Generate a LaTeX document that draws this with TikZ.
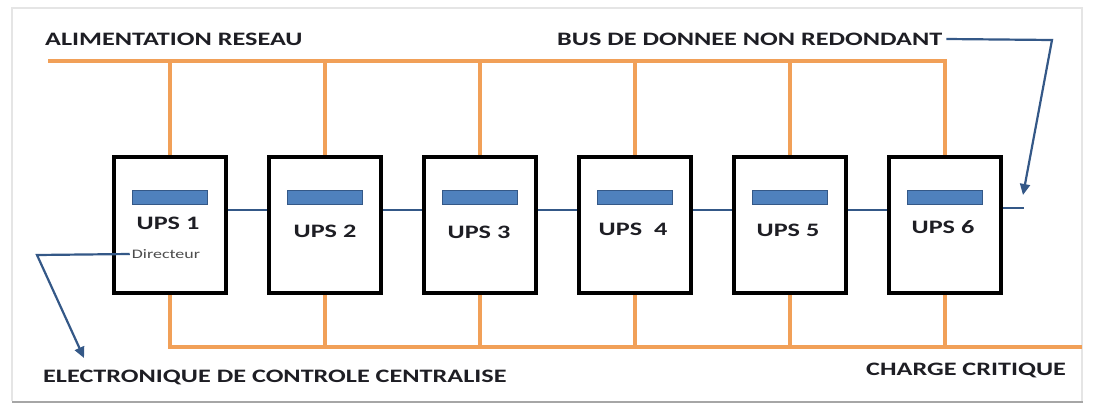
\documentclass[tikz,border=0pt]{standalone}
\usepackage{graphicx}
\usepackage{fontspec}
\setmainfont{Carlito}
\usetikzlibrary{arrows.meta,calc,positioning}
\definecolor{cordon}{RGB}{241,160,88}
\definecolor{barblue}{RGB}{79,129,189}
\definecolor{busblue}{RGB}{52,88,135}
\definecolor{texte}{RGB}{30,30,36}
\newcommand{\etire}[1]{\scalebox{1.38}[1]{#1}}
\tikzset{
  ups/.style={
    draw=black,
    line width=4pt,
    fill=white,
    minimum width=112pt,
    minimum height=136pt,
    inner sep=0pt
  },
  barre/.style={
    draw=busblue,
    fill=barblue,
    line width=.8pt,
    minimum width=75pt,
    minimum height=14pt,
    inner sep=0pt
  },
  nom/.style={
    font=\bfseries\fontsize{19}{21}\selectfont,
    text=texte,
    inner sep=0pt
  },
  titre/.style={
    font=\bfseries\fontsize{19}{21}\selectfont,
    text=texte,
    anchor=west,
    inner sep=0pt
  },
  petit/.style={
    font=\fontsize{13}{15}\selectfont,
    text=black!70,
    inner sep=0pt
  },
  cable/.style={
    cordon,
    line width=4pt
  },
  liaison/.style={
    busblue,
    line width=2pt
  },
  fleche/.style={
    -{Triangle[length=11pt,width=10pt]},
    busblue,
    line width=2.2pt
  }
}

\begin{document}
\begin{tikzpicture}[x=1pt,y=-1pt,node distance=39pt]
\useasboundingbox (0,0) rectangle (1095,407);
% cadre
\draw[black!10, line width=1.5pt] (12,401) -- (12,8) -- (1082,8) -- (1082,401);
\draw[black!35, line width=2pt] (12,402) -- (1083,402);
% onduleurs
\node[ups] (ups1) at (170,225) {};
\node[ups, right=of ups1] (ups2) {};
\node[ups, right=of ups2] (ups3) {};
\node[ups, right=of ups3] (ups4) {};
\node[ups, right=of ups4] (ups5) {};
\node[ups, right=of ups5] (ups6) {};
\foreach \i in {1,...,6}
  \node[barre, below=35pt of ups\i.north] (barre\i) {};
\node[nom] (nom1) at (168,223) {\etire{UPS 1}};
\node[nom] (nom2) at (325,231) {\etire{UPS 2}};
\node[nom] (nom3) at (479,232) {\etire{UPS 3}};
\node[nom] (nom4) at (633,229) {\etire{UPS\ \ 4}};
\node[nom] (nom5) at (788,230) {\etire{UPS 5}};
\node[nom] (nom6) at (943,227) {\etire{UPS 6}};
\node[petit] (dir) at (166,254) {\etire{Directeur}};
% alimentation et charge
\coordinate (alim) at (48,61);
\coordinate (charge) at (1082,347);
\draw[cable] (alim) -| (ups6.north);
\foreach \i in {1,...,5}
  \draw[cable] (ups\i.north |- alim) -- (ups\i.north);
\draw[cable] (ups1.south) |- (charge);
\foreach \i in {2,...,6}
  \draw[cable] (ups\i.south) -- (ups\i.south |- charge);
% bus de donnees
\foreach \i/\j in {1/2,2/3,3/4,4/5,5/6}
  \draw[liaison] ($(ups\i.east)+(0,-15)$) -- ($(ups\j.west)+(0,-15)$);
\coordinate (sortie) at (1024,208);
\draw[liaison] (ups6.east |- sortie) -- (sortie);
% textes
\node[titre] (alimtxt) at (45,39) {\etire{ALIMENTATION RESEAU}};
\node[titre] (bus) at (557,39) {\etire{BUS DE DONNEE NON REDONDANT}};
\node[titre] (ecc) at (43,377) {\etire{ELECTRONIQUE DE CONTROLE CENTRALISE}};
\node[titre] (chargetxt) at (866,370) {\etire{CHARGE CRITIQUE}};
% fleches
\coordinate (coude1) at (1052,40);
\coordinate (cible1) at (1023,195);
\draw[fleche] ([xshift=4pt]bus.east) -- (coude1) -- (cible1);
\coordinate (coude2) at (37,255);
\coordinate (cible2) at (84,358);
\draw[fleche] ([xshift=-2pt]dir.west) -- (coude2) -- (cible2);
\end{tikzpicture}
\end{document}
